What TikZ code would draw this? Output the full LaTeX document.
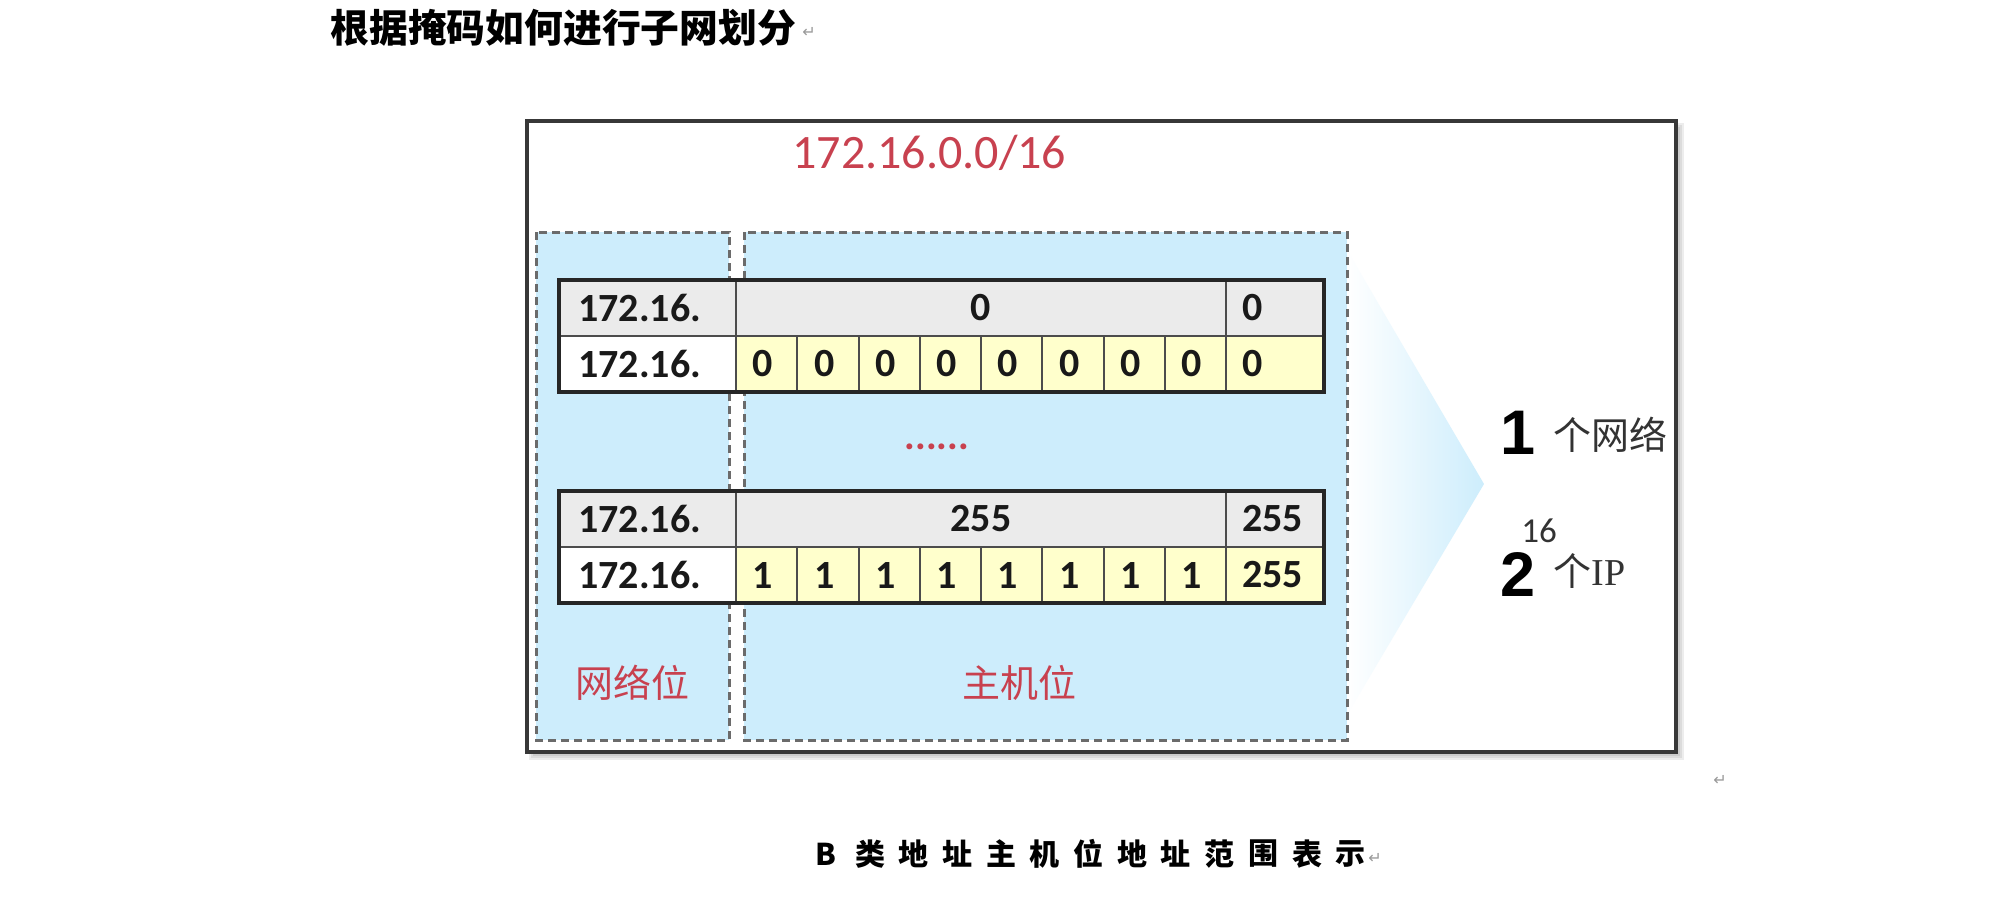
\documentclass[tikz,border=0pt]{standalone}
\usepackage{fontspec}
\setmainfont{Carlito}
\newfontfamily\cjk{Noto Sans CJK SC}
\newfontfamily\arialf{Liberation Sans}
\newfontfamily\timesf{Liberation Serif}
\newfontfamily\dejavu{DejaVu Sans}
\definecolor{boxblue}{HTML}{CDEDFC}
\definecolor{hdrgray}{HTML}{EBEBEB}
\definecolor{cellyel}{HTML}{FFFFCC}
\definecolor{redtxt}{HTML}{C8414F}
\definecolor{dashgray}{HTML}{6B6B6B}
\definecolor{framegray}{HTML}{383838}
\definecolor{darktxt}{HTML}{333333}
\tikzset{
  tabtxt/.style={inner sep=0pt, font=\fontsize{20}{24}\selectfont\bfseries, text=black!90},
  outerline/.style={draw=black!85, line width=2pt},
  innerline/.style={draw=black!70, line width=1pt},
  dashbox/.style={fill=boxblue, draw=dashgray, line width=1.5pt, dash pattern=on 4pt off 2.5pt},
  redlabel/.style={inner sep=0pt, text=redtxt, font=\cjk\fontsize{19}{22}\selectfont},
  cnttxt/.style={inner sep=0pt, text=darktxt, font=\cjk\fontsize{19}{22}\selectfont},
  bignum/.style={inner sep=0pt, text=black, font=\arialf\bfseries\fontsize{31.5}{36}\selectfont},
  captxt/.style={inner sep=0pt, text=black, font=\cjk\bfseries\fontsize{15}{18}\selectfont},
  retmark/.style={inner sep=0pt, text=black!40, font=\dejavu\fontsize{8}{9}\selectfont}
}
\newcommand{\IPtable}[5]{%
  \begin{scope}[shift={(0,#2)}]
    \fill[hdrgray] (559,0) rectangle (1324,56);
    \fill[white] (559,56) rectangle (736,112);
    \fill[cellyel] (736,56) rectangle (1324,112);
    \draw[innerline] (559,56) -- (1324,56);
    \draw[innerline] (736,0) -- (736,112);
    \draw[innerline] (1226,0) -- (1226,112);
    \foreach \i in {1,...,7} \draw[innerline] ({736+61.25*\i},56) -- ({736+61.25*\i},112);
    \draw[outerline] (559,0) rectangle (1324,112);
    \node[tabtxt, anchor=west] (#1h1) at (578,28) {172.16.};
    \node[tabtxt] (#1h2) at (981,28) {#3};
    \node[tabtxt, anchor=west] (#1h3) at (1242,28) {#5};
    \node[tabtxt, anchor=west] (#1r1) at (578,84) {172.16.};
    \foreach \i in {0,...,7} \node[tabtxt] (#1c\i) at ({736+61.25*\i+27},84) {#4};
    \node[tabtxt, anchor=west] (#1r3) at (1242,84) {#5};
  \end{scope}}
\begin{document}
\begin{tikzpicture}[x=0.5pt,y=-0.5pt]
\useasboundingbox (0,0) rectangle (2004,901);
\fill[white] (0,0) rectangle (2004,901);
% title
\node[inner sep=0pt, anchor=west, font=\cjk\bfseries\fontsize{19.4}{22}\selectfont] (title) at (330,28) {根据掩码如何进行子网划分};
\node[retmark, anchor=west] (ret1) at (802,32) {↵};
% frame shadow
\foreach \d in {0,2,4,6}
  \fill[black, opacity=0.07] ({535-\d},{129-\d}) rectangle ({1678+\d},{754+\d});
\fill[white] (527,121) rectangle (1676,752);
% chevron
\shade[left color=white, right color=boxblue] (1347,250) -- (1484,484) -- (1347,715) -- cycle;
% dashed boxes
\draw[dashbox] (536,232) rectangle (729,740);
\draw[dashbox] (744,232) rectangle (1347,740);
\draw[draw=framegray, line width=2pt] (527,121) rectangle (1676,752);
% subnet label
\node[inner sep=0pt, anchor=base west, text=redtxt, font=\fontsize{24}{28}\selectfont] (net) at (792,168) {172.16.0.0/16};
% tables
\IPtable{a}{280}{0}{0}{0}
\IPtable{b}{491}{255}{1}{255}
\node[inner sep=0pt, anchor=base, text=redtxt, font=\fontsize{20}{24}\selectfont\bfseries] (dots) at (937,449) {......};
% labels
\node[redlabel] (netbits) at (632,683) {网络位};
\node[redlabel] (hostbits) at (1019,683) {主机位};
% right side
\node[bignum, anchor=base west] (one) at (1500,454) {1};
\node[cnttxt, anchor=base west] (onenet) at (1553,449) {个网络};
\node[bignum, anchor=base west] (two) at (1500,596) {2};
\node[inner sep=0pt, anchor=base west, text=darktxt, font=\fontsize{17.5}{20}\selectfont] (exp) at (1521,542) {16};
\node[cnttxt, anchor=base west] (twoip) at (1553,585) {个{\timesf IP}};
\node[retmark] (ret2) at (1720,780) {↵};
% caption
\node[captxt] (capB) at (826,854) {B};
\foreach \c [count=\i from 0] in {类,地,址,主,机,位,地,址,范,围,表,示}
  \node[captxt] (cap\i) at ({870+43.7*\i},854) {\c};
\node[retmark, anchor=west] (ret3) at (1368,858) {↵};
\end{tikzpicture}
\end{document}
